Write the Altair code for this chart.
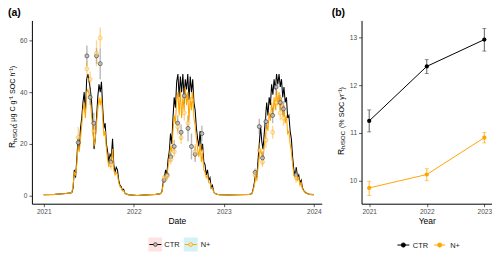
import altair as alt
import pandas as pd

FONT = "Liberation Sans"

# ---------------- panel (a): Rh/SOC time series ----------------
# active-season readings every 5 days starting 20 April of each year
season_starts = ["2021-04-20", "2022-04-20", "2023-04-20"]
ctr_2021 = [1.0, 1.2, 3, 10, 7, 14, 22, 18, 26, 30, 36, 40, 32, 45, 47, 44, 41, 36, 28, 18,
            22, 30, 38, 43, 40, 44, 34, 26, 28, 20, 17, 13, 16, 15, 22, 12, 9, 11, 10, 6,
            4, 3.5, 2, 2.5, 1, 0.6, 0.5]
np_2021 = [1.0, 1.3, 4, 9, 8, 12, 19, 17, 22, 27, 33, 36, 30, 40, 41, 39, 37, 31, 26, 19,
           22, 28, 33, 38, 35, 38, 30, 23, 25, 18, 14, 11, 14, 13, 18, 10, 8, 9, 8, 5,
           3.5, 3, 2, 2, 1, 0.6, 0.5]
ctr_2022 = [0.8, 1.5, 5, 7, 10, 8, 14, 17, 24, 20, 30, 38, 34, 44, 47, 38, 46, 40, 47, 38,
            45, 41, 47, 37, 46, 40, 45, 36, 33, 26, 22, 19, 25, 17, 20, 13, 12, 8, 10, 6,
            7, 3, 4, 1.5, 1, 0.6, 0.5]
np_2022 = [0.8, 1.5, 4, 6, 8, 7, 11, 14, 19, 17, 25, 31, 28, 37, 40, 31, 41, 30, 38, 33,
           42, 35, 40, 29, 38, 33, 40, 30, 27, 22, 18, 15, 20, 13, 16, 10, 9, 7, 8, 5,
           5, 3, 3, 1.5, 1, 0.6, 0.5]
ctr_2023 = [0.6, 0.8, 2.5, 5, 9, 7, 14, 20, 27, 21, 18, 24, 30, 36, 31, 38, 35, 43, 39, 45,
            41, 47, 43, 47, 42, 45, 38, 42, 36, 38, 30, 31, 25, 22, 15, 10, 8, 11, 7, 8,
            5, 6, 3, 2, 1.5, 1, 0.8]
np_2023 = [0.6, 0.8, 2, 4, 7, 6, 11, 15, 18, 16, 14, 19, 23, 28, 25, 32, 29, 36, 31, 38,
           33, 41, 35, 40, 33, 38, 31, 35, 28, 31, 24, 25, 20, 17, 12, 8, 7, 9, 6, 7,
           4, 5, 2.5, 2, 1.2, 0.9, 0.7]
# winter baseline readings
winter_dates = ["2021-01-01", "2021-02-15", "2021-03-31", "2021-04-15",
                "2021-12-15", "2022-01-15", "2022-02-20", "2022-03-31", "2022-04-15",
                "2022-12-15", "2023-01-20", "2023-03-01", "2023-04-15",
                "2023-12-15", "2023-12-31"]
winter_ctr = [0.4, 0.5, 0.8, 1.0, 0.3, 0.1, 0.3, 0.5, 0.7, 0.4, 0.3, 0.4, 0.5, 0.5, 0.4]
winter_np = [0.4, 0.5, 0.8, 1.0, 0.3, 0.1, 0.3, 0.5, 0.7, 0.4, 0.3, 0.4, 0.5, 0.5, 0.4]

# field campaign measurements (mean +- sd)
meas_dates = ["2021-05-21", "2021-06-25", "2021-07-08", "2021-07-23", "2021-08-03", "2021-08-18", "2021-09-30",
              "2022-05-04", "2022-05-16", "2022-05-31", "2022-06-14", "2022-06-28", "2022-07-12", "2022-07-25",
              "2022-08-09", "2022-08-23", "2022-09-07", "2022-10-04",
              "2023-05-08", "2023-05-25", "2023-06-07", "2023-06-21", "2023-07-18", "2023-08-01", "2023-08-18",
              "2023-08-31", "2023-10-21"]
ctr_meas = [20.5, 54, 38, 28, 54, 51, 13, 6, 8, 15, 19, 28, 24.5, 38.6, 26, 19, 16, 24,
            9, 26.7, 14.6, 28.6, 31, 42, 36, 33.5, 8]
ctr_sd = [2.5, 4, 3, 4, 3, 6, 2, 1, 1.5, 2, 2.5, 3, 3, 3, 5, 5, 3, 3, 1.5, 3, 2.5, 3, 3, 3, 3, 3, 2]
np_meas = [22.5, 49, 45, 25, 55, 61, 12, 7, 7.5, 14, 17, 26.6, 22.5, 32, 28, 37, 17, 17,
           8, 17.5, 13, 21.5, 24.5, 36, 32, 30, 7]
np_sd = [4, 3, 3, 3, 5, 4, 2, 1, 1.5, 2, 2, 3, 2.5, 3, 3, 3, 3, 2.5, 1.5, 3, 2, 3, 2.5, 3, 3, 3, 2]

# ---------------- panel (b): annual Rh/SOC ----------------
years = [2021, 2022, 2023]
ctr_annual = [11.25, 12.39, 12.95]
ctr_lo = [11.02, 12.24, 12.71]
ctr_hi = [11.48, 12.53, 13.18]
np_annual = [9.85, 10.13, 10.90]
np_lo = [9.69, 10.00, 10.79]
np_hi = [9.99, 10.25, 11.01]

ORANGE = "#FFA500"

frames = []
for start, c, n in zip(season_starts, [ctr_2021, ctr_2022, ctr_2023], [np_2021, np_2022, np_2023]):
    d = pd.date_range(start, periods=len(c), freq="5D")
    frames.append(pd.DataFrame({"date": d, "ctr": c, "np": n}))
frames.append(pd.DataFrame({"date": pd.to_datetime(winter_dates), "ctr": winter_ctr, "np": winter_np}))
daily = pd.concat(frames).sort_values("date").reset_index(drop=True)

meas = pd.DataFrame({"date": pd.to_datetime(meas_dates), "ctr": ctr_meas, "np": np_meas})
meas["ctr_lo"] = meas["ctr"] - pd.Series(ctr_sd)
meas["ctr_hi"] = meas["ctr"] + pd.Series(ctr_sd)
meas["np_lo"] = meas["np"] - pd.Series(np_sd)
meas["np_hi"] = meas["np"] + pd.Series(np_sd)

annual = pd.DataFrame({"year": years, "ctr": ctr_annual, "ctr_lo": ctr_lo, "ctr_hi": ctr_hi,
                       "np": np_annual, "np_lo": np_lo, "np_hi": np_hi})

one = pd.DataFrame({"k": [0]})


def txt(text, x, y, size, angle=0, align="left", baseline="middle", weight="normal", color="#000000"):
    kw = dict(text=text, fontSize=size, align=align, baseline=baseline, font=FONT,
              fontWeight=weight, color=color)
    if angle:
        kw["angle"] = angle
    return alt.Chart(one).mark_text(**kw).encode(x=alt.value(x), y=alt.value(y))


def seg(x1, x2, y, color, width=1.0):
    return alt.Chart(one).mark_rule(color=color, strokeWidth=width).encode(
        x=alt.value(x1), x2=alt.value(x2), y=alt.value(y))


def box(x1, x2, y1, y2, color):
    return alt.Chart(one).mark_rect(color=color).encode(
        x=alt.value(x1), x2=alt.value(x2), y=alt.value(y1), y2=alt.value(y2))


def dot(x, y, fill, stroke, size, opacity=1.0):
    return alt.Chart(one).mark_point(shape="circle", filled=True, fill=fill, stroke=stroke,
                                     strokeWidth=0.8, size=size, opacity=opacity).encode(
        x=alt.value(x), y=alt.value(y))


# ---------- left panel ----------
W1, H = 291, 184
xa = alt.X("date:T", title="Date",
           scale=alt.Scale(domain=[alt.DateTime(year=2020, month=11, date=14),
                                   alt.DateTime(year=2024, month=2, date=2)]),
           axis=alt.Axis(values=[alt.DateTime(year=y, month=1, date=1) for y in [2021, 2022, 2023, 2024]],
                         format="%Y"))
ysc = alt.Scale(domain=[-3.1, 67.7], nice=False, zero=False)
yax = alt.Axis(values=[0, 20, 40, 60], title=None)

base_d = alt.Chart(daily)
line_ctr = base_d.mark_line(color="#000000", strokeWidth=1.05).encode(
    x=xa, y=alt.Y("ctr:Q", scale=ysc, axis=yax))
line_np = base_d.mark_line(color=ORANGE, strokeWidth=1.05).encode(
    x=xa, y=alt.Y("np:Q", scale=ysc, axis=yax))

base_m = alt.Chart(meas)
err_ctr = base_m.mark_rule(color="#7F7F7F", strokeWidth=1.4, opacity=0.55).encode(
    x=xa, y=alt.Y("ctr_lo:Q", scale=ysc, axis=yax), y2="ctr_hi:Q")
err_np = base_m.mark_rule(color=ORANGE, strokeWidth=1.4, opacity=0.45).encode(
    x=xa, y=alt.Y("np_lo:Q", scale=ysc, axis=yax), y2="np_hi:Q")
pt_ctr = base_m.mark_point(shape="circle", filled=True, fill="#BDBDBD", stroke="#404040",
                           strokeWidth=0.8, size=16, opacity=0.85).encode(
    x=xa, y=alt.Y("ctr:Q", scale=ysc, axis=yax))
pt_np = base_m.mark_point(shape="circle", filled=True, fill="#FFE3A8", stroke=ORANGE,
                          strokeWidth=0.8, size=16, opacity=0.6).encode(
    x=xa, y=alt.Y("np:Q", scale=ysc, axis=yax))

left_extra = [
    txt("(a)", -24, -12, 10.5, baseline="top", weight="bold"),
    txt("R", -17, 128, 8.5, angle=270, baseline="alphabetic"),
    txt("h/SOC", -15.3, 122, 6, angle=270, baseline="alphabetic"),
    txt("( μg C g⁻¹ SOC h⁻¹)", -17, 106, 7.2, angle=270, baseline="alphabetic"),
    # legend
    box(117, 131, 218, 232, "#FCE3E1"),
    seg(118, 130, 225, "#000000"),
    dot(124, 225, "#BDBDBD", "#404040", 14),
    txt("CTR", 133, 225.5, 7.5, color="#1A1A1A"),
    box(152.5, 166.5, 218, 232, "#D3F2F3"),
    seg(153.5, 165.5, 225, ORANGE),
    dot(159.5, 225, "#FFE3A8", ORANGE, 14),
    txt("N+", 169.5, 225.5, 7.5, color="#1A1A1A"),
]

left = alt.layer(line_ctr, line_np, err_ctr, err_np, pt_ctr, pt_np, *left_extra).properties(
    width=W1, height=H)

# ---------- right panel ----------
W2 = 131
xb = alt.X("year:Q", title="Year", scale=alt.Scale(domain=[2020.867, 2023.133], nice=False, zero=False),
           axis=alt.Axis(values=[2021, 2022, 2023], format="d"))
ysc2 = alt.Scale(domain=[9.52, 13.35], nice=False, zero=False)
yax2 = alt.Axis(values=[10, 11, 12, 13], title=None)

base_a = alt.Chart(annual)
r_line_ctr = base_a.mark_line(color="#000000", strokeWidth=1).encode(
    x=xb, y=alt.Y("ctr:Q", scale=ysc2, axis=yax2))
r_line_np = base_a.mark_line(color=ORANGE, strokeWidth=1).encode(
    x=xb, y=alt.Y("np:Q", scale=ysc2, axis=yax2))
r_err_ctr = base_a.mark_rule(color="#3A3A3A", strokeWidth=0.8).encode(
    x=xb, y=alt.Y("ctr_lo:Q", scale=ysc2, axis=yax2), y2="ctr_hi:Q")
r_err_np = base_a.mark_rule(color=ORANGE, strokeWidth=0.8).encode(
    x=xb, y=alt.Y("np_lo:Q", scale=ysc2, axis=yax2), y2="np_hi:Q")
caps = []
for fld, col in [("ctr_lo", "#3A3A3A"), ("ctr_hi", "#3A3A3A"), ("np_lo", ORANGE), ("np_hi", ORANGE)]:
    caps.append(base_a.mark_tick(color=col, orient="horizontal", size=4, thickness=0.8).encode(
        x=xb, y=alt.Y(f"{fld}:Q", scale=ysc2, axis=yax2)))
r_pt_ctr = base_a.mark_point(shape="circle", filled=True, color="#000000", size=18, opacity=1).encode(
    x=xb, y=alt.Y("ctr:Q", scale=ysc2, axis=yax2))
r_pt_np = base_a.mark_point(shape="circle", filled=True, color=ORANGE, size=18, opacity=1).encode(
    x=xb, y=alt.Y("np:Q", scale=ysc2, axis=yax2))

right_extra = [
    txt("(b)", -30, -12, 10.5, baseline="top", weight="bold"),
    txt("R", -18, 135, 8.5, angle=270, baseline="alphabetic"),
    txt("h/SOC", -16.2, 129, 6, angle=270, baseline="alphabetic"),
    txt("(% SOC yr⁻¹)", -17.5, 108, 7.2, angle=270, baseline="alphabetic"),
    # legend
    seg(36, 48, 225.5, "#000000"),
    dot(42, 225.5, "#000000", "#000000", 18),
    txt("CTR", 51.5, 226, 7.5, color="#1A1A1A"),
    seg(73, 84, 225.5, ORANGE),
    dot(78.5, 225.5, ORANGE, ORANGE, 18),
    txt("N+", 89, 226, 7.5, color="#1A1A1A"),
]

right = alt.layer(r_line_ctr, r_line_np, r_err_ctr, r_err_np, *caps, r_pt_ctr, r_pt_np,
                  *right_extra).properties(width=W2, height=H)

chart = alt.hconcat(left, right, spacing=10).properties(
    padding={"left": 0, "top": 0, "right": 0, "bottom": 0}
).configure_view(stroke=None).configure_axis(
    grid=False, domainColor="#000000", domainWidth=1, tickColor="#333333", tickSize=3,
    tickWidth=0.8, labelColor="#4D4D4D", labelFontSize=6.6, labelFont=FONT,
    titleFont=FONT, titleFontSize=8.5, titleColor="#000000", titleFontWeight="normal",
    labelPadding=1.5, titlePadding=2, labelFlush=False
).configure_axisY(labelPadding=2)

chart.save("out.html", embed_options={"renderer": "svg", "actions": False})
